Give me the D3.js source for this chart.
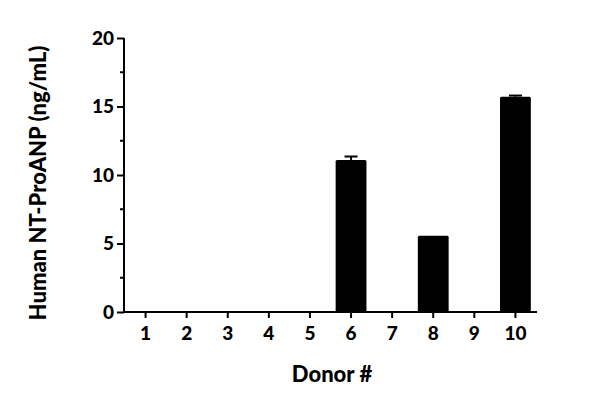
<!DOCTYPE html>
<html>
<head>
<meta charset="utf-8">
<script src="https://cdn.jsdelivr.net/npm/d3@7"></script>
<style>
  body { margin: 0; background: #fff; }
  text { font-family: "Lato", "DejaVu Sans", sans-serif; font-weight: 900; fill: #000; }
</style>
</head>
<body>
<div id="chart"></div>
<script>
// data
const donors = ["1", "2", "3", "4", "5", "6", "7", "8", "9", "10"];
const means = [0, 0, 0, 0, 0, 11.1, 0, 5.57, 0, 15.72];
const errors = [0, 0, 0, 0, 0, 0.25, 0, 0, 0, 0.08];
const yTicks = [0, 5, 10, 15, 20];
const yMinor = [2.5, 7.5, 12.5, 17.5];

const width = 600, height = 406;
const margin = { top: 38, right: 63, bottom: 94, left: 124 };

const svg = d3.select("#chart").append("svg")
    .attr("width", width).attr("height", height);

const x = d3.scaleBand().domain(donors)
    .range([margin.left, width - margin.right])
    .paddingInner(0.25).paddingOuter(0.15);
const y = d3.scaleLinear().domain([0, 20])
    .range([height - margin.bottom, margin.top]);

let rows = donors.map(function (d, i) { return { donor: d, v: means[i], e: errors[i] }; });

// bars
svg.append("g").selectAll("rect")
    .data(rows.filter(d => d.v > 0))
    .enter().append("rect")
    .attr("x", d => x(d.donor))
    .attr("width", x.bandwidth())
    .attr("y", d => y(d.v))
    .attr("height", d => y(0) - y(d.v))
    .attr("rx", 1.5)
    .attr("fill", "#000");

// error bars (upper only), skipped when too small to show
let eg = svg.append("g").attr("stroke", "#000").attr("stroke-width", 2);
rows.filter(d => d.v > 0 && d.e > 0).forEach(function (d) {
    let cx = x(d.donor) + x.bandwidth() / 2;
    eg.append("line").attr("x1", cx).attr("x2", cx)
        .attr("y1", y(d.v)).attr("y2", y(d.v + d.e));
    eg.append("line").attr("x1", cx - 6.5).attr("x2", cx + 6.5)
        .attr("y1", y(d.v + d.e)).attr("y2", y(d.v + d.e));
});

// y axis
const yAxis = d3.axisLeft(y).tickValues(yTicks).tickSize(7).tickPadding(3);
let yg = svg.append("g").attr("transform", "translate(" + margin.left + ",0)").call(yAxis);
yg.selectAll("text").style("font-size", "19px");
yg.selectAll("line, path").attr("stroke-width", 2).attr("stroke", "#000");
yg.select(".domain").attr("d", "M0," + y(20) + "V" + y(0));
svg.append("g").attr("transform", "translate(" + margin.left + ",0)")
    .selectAll("line").data(yMinor).enter().append("line")
    .attr("x1", -4).attr("x2", 0)
    .attr("y1", d => y(d)).attr("y2", d => y(d))
    .attr("stroke", "#000").attr("stroke-width", 2);

// x axis
const xAxis = d3.axisBottom(x).tickSize(6).tickPadding(9);
let xg = svg.append("g").attr("transform", "translate(0," + y(0) + ")").call(xAxis);
xg.selectAll("text").style("font-size", "19px");
xg.selectAll("line, path").attr("stroke-width", 2).attr("stroke", "#000");
xg.select(".domain").attr("d", "M" + (margin.left - 1) + ",0H" + (width - margin.right));

// titles
svg.append("text")
    .attr("x", 332).attr("y", 382)
    .attr("text-anchor", "middle")
    .style("font-size", "22px")
    .text("Donor #");

svg.append("text")
    .attr("transform", "translate(46,183) rotate(-90)")
    .attr("text-anchor", "middle")
    .style("font-size", "22px")
    .text("Human NT-ProANP (ng/mL)");
</script>
</body>
</html>
